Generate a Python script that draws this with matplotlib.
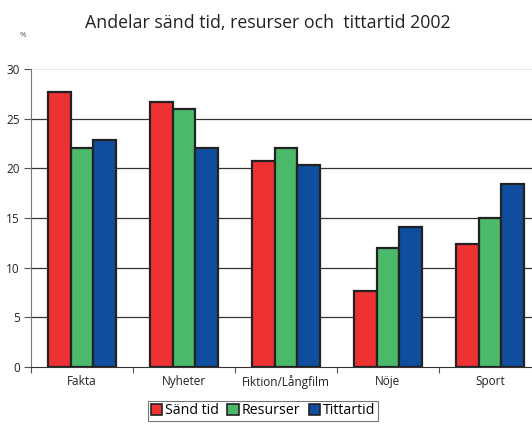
import numpy as np
import matplotlib
matplotlib.use("Agg")
import matplotlib.pyplot as plt
from matplotlib.patches import Patch

plt.rcParams['font.family'] = ['Open Sans', 'DejaVu Sans']

kategorier = ['Fakta', 'Nyheter', 'Fiktion/Långfilm', 'Nöje', 'Sport']
sand_tid = [27.7, 26.7, 20.7, 7.7, 12.4]
resurser = [22.0, 26.0, 22.0, 12.0, 15.0]
tittartid = [22.9, 22.0, 20.3, 14.1, 18.4]
serier = ['Sänd tid', 'Resurser', 'Tittartid']
farger = ['#EE3234', '#4BB96A', '#0F4E9F']

fig = plt.figure(figsize=(5.32, 4.25), dpi=100)
ax = fig.add_axes([31 / 532, 1 - 367 / 425, 510 / 532, 298 / 425])

x = np.arange(len(kategorier))
w = 0.222
for i, (vals, c) in enumerate(zip([sand_tid, resurser, tittartid], farger)):
    ax.bar(x + (i - 1) * w, vals, w, color=c, edgecolor='#222222', linewidth=1.6, zorder=3)

ax.set_xlim(-0.5, len(kategorier) - 0.5)
ax.set_ylim(0, 30)
ax.set_yticks(range(0, 31, 5))
for v in range(5, 30, 5):
    ax.axhline(v, color='#333333', linewidth=0.9, zorder=1)
ax.axhline(30, color='#e8e8e8', linewidth=0.9, zorder=1)

ax.set_xticks(np.arange(-0.5, len(kategorier)), minor=False)
ax.set_xticklabels([])
ax.set_xticks(x, minor=True)
ax.set_xticklabels(kategorier, minor=True)
ax.tick_params(axis='x', which='minor', length=0, labelsize=8.5, pad=6, colors='#222222')
ax.tick_params(axis='x', which='major', length=4, color='#555555')
ax.tick_params(axis='y', length=5, color='#555555', labelsize=8.5, labelcolor='#222222', pad=3)

for s in ['top', 'right']:
    ax.spines[s].set_visible(False)
ax.spines['left'].set_color('#777777')
ax.spines['bottom'].set_color('#333333')

fig.text(0.503, 0.945, 'Andelar sänd tid, resurser och  tittartid 2002', ha='center', va='center',
         fontsize=12.8, color='#222222')
fig.text(0.042, 0.917, '%', ha='center', va='center', fontsize=5.5, color='#555555')

handles = [Patch(facecolor=c, edgecolor='#222222', linewidth=1.2) for c in farger]
leg = fig.legend(handles, serier, loc='center', bbox_to_anchor=(263 / 532, 1 - 411 / 425), ncol=3,
                 fontsize=10.2, frameon=True, fancybox=False, handlelength=0.8, handleheight=0.8,
                 handletextpad=0.2, columnspacing=0.6, borderpad=0.2, borderaxespad=0)
leg.get_frame().set_edgecolor('#555555')
leg.get_frame().set_linewidth(0.8)

fig.savefig('out.png', dpi=100)
